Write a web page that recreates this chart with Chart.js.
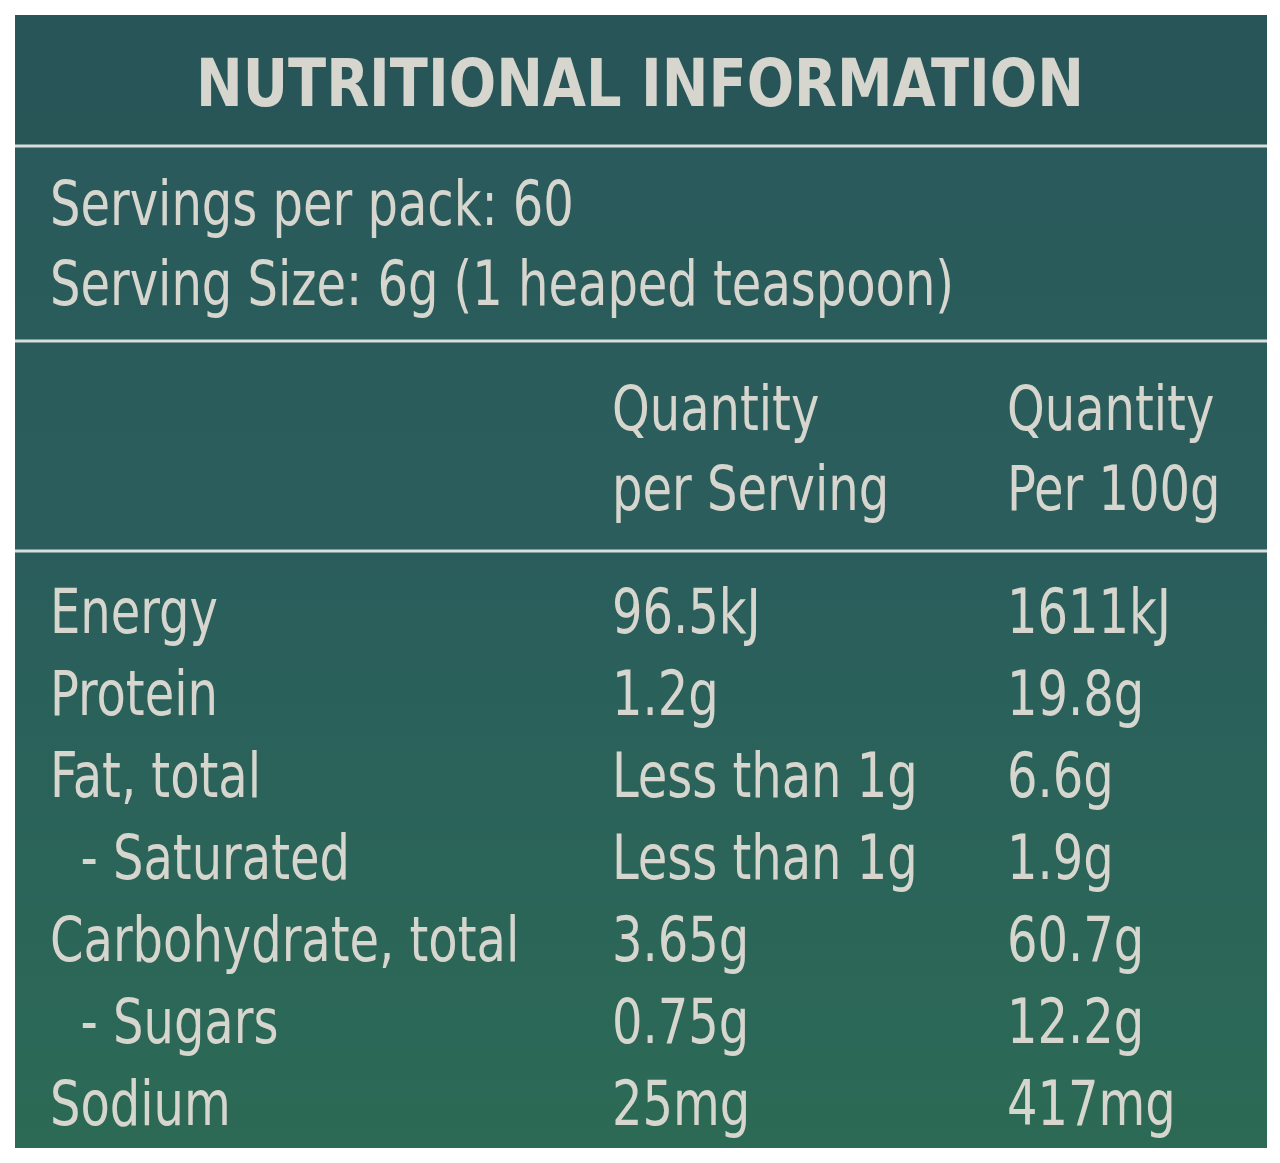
<!DOCTYPE html>
<html>
<head>
<meta charset="utf-8">
<script src="https://cdn.jsdelivr.net/npm/chart.js@4/dist/chart.umd.min.js"></script>
<style>
  html, body { margin: 0; padding: 0; background: #fff; }
  #wrap { width: 1280px; height: 1163px; }
</style>
</head>
<body>
<div id="wrap"><canvas id="nutri"></canvas></div>
<script>
// Table content
const title = 'NUTRITIONAL INFORMATION';
const servingLines = ['Servings per pack: 60', 'Serving Size: 6g (1 heaped teaspoon)'];
const headServing = ['Quantity', 'per Serving'];
const head100g = ['Quantity', 'Per 100g'];
const nutrients = ['Energy', 'Protein', 'Fat, total', '  - Saturated', 'Carbohydrate, total', '  - Sugars', 'Sodium'];
const perServing = ['96.5kJ', '1.2g', 'Less than 1g', 'Less than 1g', '3.65g', '0.75g', '25mg'];
const per100g = ['1611kJ', '19.8g', '6.6g', '1.9g', '60.7g', '12.2g', '417mg'];

const FONT = '"DejaVu Sans Condensed", "Roboto", sans-serif';
const TXT = '#d6d6ce';

// text squeezed horizontally to imitate the condensed label font
function narrowText(ctx, s, x, y, sx) {
    ctx.save();
    ctx.translate(x, y);
    ctx.scale(sx, 1);
    ctx.fillText(s, 0, 0);
    ctx.restore();
}

const tablePlugin = {
    id: 'tablePlugin',
    beforeDraw(chart) {
        const ctx = chart.ctx;
        const xs = chart.scales.x, ys = chart.scales.y;
        const X = v => xs.getPixelForValue(v), Y = v => ys.getPixelForValue(v);

        ctx.save();
        const g = ctx.createLinearGradient(0, Y(15), 0, Y(1148));
        g.addColorStop(0, '#2a595b');
        g.addColorStop(0.5, '#2a5e5c');
        g.addColorStop(1, '#2c6a55');
        ctx.fillStyle = g;
        ctx.fillRect(X(15), Y(15), X(1267) - X(15), Y(1148) - Y(15));
        ctx.fillStyle = 'rgba(0,0,0,0.04)';
        ctx.fillRect(X(15), Y(15), X(1267) - X(15), Y(145) - Y(15));

        ctx.strokeStyle = '#d8dedc';
        ctx.lineWidth = 3;
        [146, 341, 551].forEach(v => {
            ctx.beginPath();
            ctx.moveTo(X(15), Y(v));
            ctx.lineTo(X(1267), Y(v));
            ctx.stroke();
        });

        ctx.fillStyle = TXT;
        ctx.textBaseline = 'alphabetic';
        ctx.textAlign = 'left';

        ctx.font = 'bold 66px ' + FONT;
        const tw = ctx.measureText(title).width * 0.94;
        narrowText(ctx, title, X(640) - tw / 2, Y(106), 0.94);

        ctx.font = '62px ' + FONT;
        const S = 0.86;
        servingLines.forEach((s, i) => narrowText(ctx, s, X(50), Y(225 + i * 80), S));
        headServing.forEach((s, i) => narrowText(ctx, s, X(612), Y(430 + i * 80), S));
        head100g.forEach((s, i) => narrowText(ctx, s, X(1007), Y(430 + i * 80), S));

        nutrients.forEach((n, i) => {
            const yb = Y(633 + i * 82);
            narrowText(ctx, n, X(50), yb, S);
            narrowText(ctx, perServing[i], X(612), yb, S);
            narrowText(ctx, per100g[i], X(1007), yb, S);
        });
        ctx.restore();
    }
};

new Chart(document.getElementById('nutri'), {
    type: 'scatter',
    data: { datasets: [{ data: [], pointRadius: 0 }] },
    options: {
        responsive: true,
        maintainAspectRatio: false,
        animation: false,
        layout: { padding: 0 },
        plugins: { legend: { display: false }, tooltip: { enabled: false } },
        scales: {
            x: { type: 'linear', min: 0, max: 1280, display: false },
            y: { type: 'linear', min: 0, max: 1163, reverse: true, display: false }
        }
    },
    plugins: [tablePlugin]
});
</script>
</body>
</html>
